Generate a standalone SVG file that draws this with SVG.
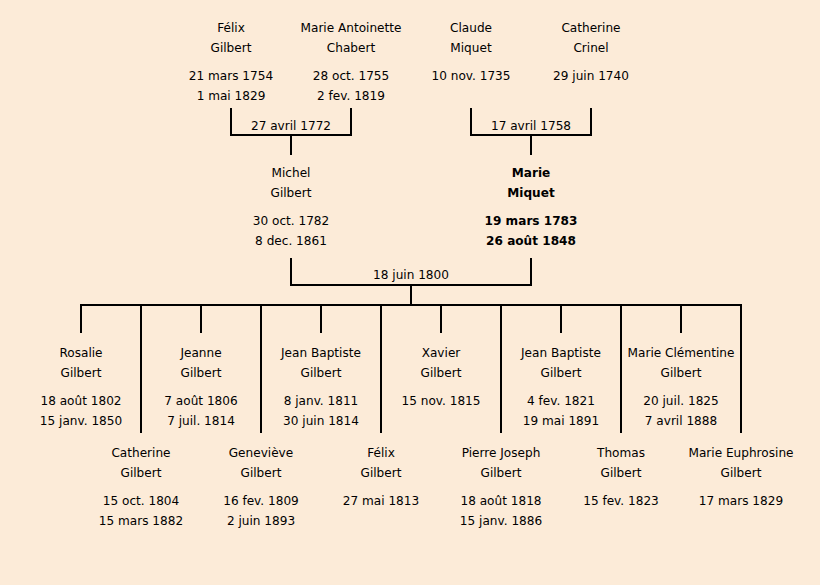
<svg xmlns="http://www.w3.org/2000/svg" width="820" height="585" viewBox="0 0 820 585">
<style>
text{font-family:"DejaVu Sans","Noto Sans",sans-serif;font-size:12.1px;fill:#000;text-anchor:middle}
.b{font-weight:bold}
.c{stroke:#000;stroke-width:2;fill:none}
</style>
<rect width="820" height="585" fill="#fcebd8"/>
<g id="connectors" class="c">
<path d="M231,108V135H351V108M291,135V155"/>
<path d="M471,108V135H591V108M531,135V155"/>
<path d="M291,258V285H531V258M411,285V305"/>
<path d="M81,333V305H741V433M141,305V433M261,305V433M381,305V433M501,305V433M621,305V433M201,305V333M321,305V333M441,305V333M561,305V333M681,305V333"/>
</g>
<g id="labels">
<text x="291" y="130">27 avril 1772</text>
<text x="531" y="130">17 avril 1758</text>
<text x="411" y="279">18 juin 1800</text>
</g>
<g id="felix"><text x="231" y="32">Félix</text><text x="231" y="52">Gilbert</text><text x="231" y="80">21 mars 1754</text><text x="231" y="100">1 mai 1829</text></g>
<g id="marie-antoinette"><text x="351" y="32">Marie Antoinette</text><text x="351" y="52">Chabert</text><text x="351" y="80">28 oct. 1755</text><text x="351" y="100">2 fev. 1819</text></g>
<g id="claude"><text x="471" y="32">Claude</text><text x="471" y="52">Miquet</text><text x="471" y="80">10 nov. 1735</text></g>
<g id="catherine-crinel"><text x="591" y="32">Catherine</text><text x="591" y="52">Crinel</text><text x="591" y="80">29 juin 1740</text></g>
<g id="michel"><text x="291" y="177">Michel</text><text x="291" y="197">Gilbert</text><text x="291" y="225">30 oct. 1782</text><text x="291" y="245">8 dec. 1861</text></g>
<g id="marie-miquet"><text class="b" x="531" y="177">Marie</text><text class="b" x="531" y="197">Miquet</text><text class="b" x="531" y="225">19 mars 1783</text><text class="b" x="531" y="245">26 août 1848</text></g>
<g id="rosalie"><text x="81" y="357">Rosalie</text><text x="81" y="377">Gilbert</text><text x="81" y="405">18 août 1802</text><text x="81" y="425">15 janv. 1850</text></g>
<g id="jeanne"><text x="201" y="357">Jeanne</text><text x="201" y="377">Gilbert</text><text x="201" y="405">7 août 1806</text><text x="201" y="425">7 juil. 1814</text></g>
<g id="jean-baptiste-1"><text x="321" y="357">Jean Baptiste</text><text x="321" y="377">Gilbert</text><text x="321" y="405">8 janv. 1811</text><text x="321" y="425">30 juin 1814</text></g>
<g id="xavier"><text x="441" y="357">Xavier</text><text x="441" y="377">Gilbert</text><text x="441" y="405">15 nov. 1815</text></g>
<g id="jean-baptiste-2"><text x="561" y="357">Jean Baptiste</text><text x="561" y="377">Gilbert</text><text x="561" y="405">4 fev. 1821</text><text x="561" y="425">19 mai 1891</text></g>
<g id="marie-clementine"><text x="681" y="357">Marie Clémentine</text><text x="681" y="377">Gilbert</text><text x="681" y="405">20 juil. 1825</text><text x="681" y="425">7 avril 1888</text></g>
<g id="catherine"><text x="141" y="457">Catherine</text><text x="141" y="477">Gilbert</text><text x="141" y="505">15 oct. 1804</text><text x="141" y="525">15 mars 1882</text></g>
<g id="genevieve"><text x="261" y="457">Geneviève</text><text x="261" y="477">Gilbert</text><text x="261" y="505">16 fev. 1809</text><text x="261" y="525">2 juin 1893</text></g>
<g id="felix-2"><text x="381" y="457">Félix</text><text x="381" y="477">Gilbert</text><text x="381" y="505">27 mai 1813</text></g>
<g id="pierre-joseph"><text x="501" y="457">Pierre Joseph</text><text x="501" y="477">Gilbert</text><text x="501" y="505">18 août 1818</text><text x="501" y="525">15 janv. 1886</text></g>
<g id="thomas"><text x="621" y="457">Thomas</text><text x="621" y="477">Gilbert</text><text x="621" y="505">15 fev. 1823</text></g>
<g id="marie-euphrosine"><text x="741" y="457">Marie Euphrosine</text><text x="741" y="477">Gilbert</text><text x="741" y="505">17 mars 1829</text></g>
</svg>
